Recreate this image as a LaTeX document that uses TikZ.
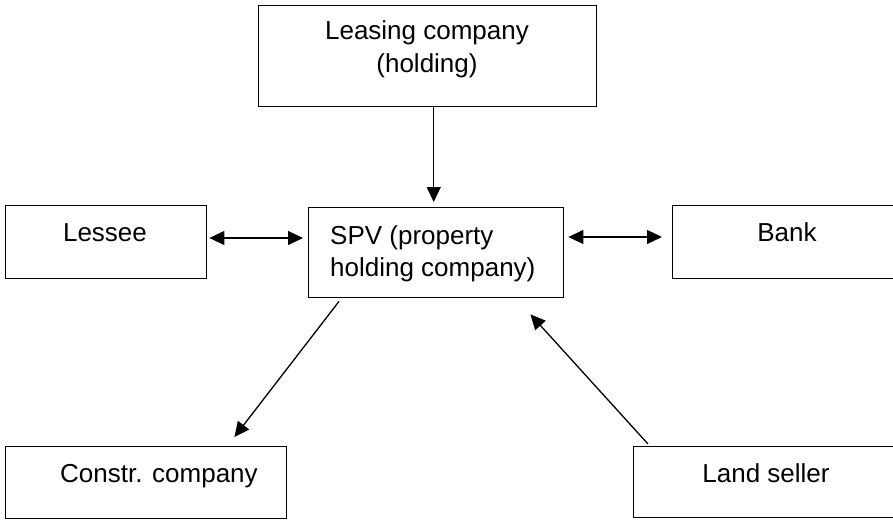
\documentclass[tikz,border=0pt]{standalone}
\usepackage{fontspec}
\setmainfont{Liberation Sans}
\usetikzlibrary{arrows.meta,calc}
\begin{document}
\begin{tikzpicture}[x=1pt,y=-1pt,
  box/.style={draw=black, line width=1.4pt, inner sep=0pt, anchor=north west},
  lbl/.style={font=\fontsize{26}{31.5}\selectfont, inner sep=0pt, anchor=base},
  arr/.style={line width=1.3pt, -{Triangle[length=15pt,width=14pt]}},
  darr/.style={line width=1.3pt, {Triangle[length=15pt,width=14pt]}-{Triangle[length=15pt,width=14pt]}}]
\useasboundingbox (0,0) rectangle (893,519);
\fill[white] (0,0) rectangle (893,519);

% boxes
\node[box, minimum width=338pt, minimum height=101pt] (lease)  at (258,5)   {};
\node[box, minimum width=201pt, minimum height=73pt]  (lessee) at (5,205)   {};
\node[box, minimum width=255pt, minimum height=90pt]  (spv)    at (308,207) {};
\node[box, minimum width=240pt, minimum height=73pt]  (bank)   at (672,205) {};
\node[box, minimum width=281pt, minimum height=72pt]  (constr) at (5,446)   {};
\node[box, minimum width=280pt, minimum height=71pt]  (land)   at (633,446) {};

% labels
\node[lbl] (leaseA) at (427,40) {Leasing company};
\node[lbl] (leaseB) at (427,72) {(holding)};
\node[lbl] (lesseeT) at (105,241) {Lessee};
\node[lbl, anchor=base west] (spvA) at (330,244) {SPV (property};
\node[lbl, anchor=base west] (spvB) at (330,276) {holding company)};
\node[lbl] (bankT) at (787,241) {Bank};
\node[lbl, anchor=base west] (constrT) at (60,482) {Constr. company};
\node[lbl] (landT) at (766,482) {Land seller};

% connectors
\draw[arr] ($(lease.south)+(6,0)$) -- ($(lease.south |- spv.north)+(6,-5)$);
\draw[darr] ($(lessee.north east)+(2,33)$) -- ($(lessee.north east -| spv.west)+(-5,33)$);
\draw[darr] ($(spv.north east)+(4,30)$) -- ($(spv.north east -| bank.west)+(-10,30)$);
\draw[arr] ($(spv.south west)+(31,3)$) -- ($(constr.north east)+(-53,-9)$);
\draw[arr] ($(land.north west)+(15,-2)$) -- ($(spv.south east)+(-34,16)$);
\end{tikzpicture}
\end{document}
